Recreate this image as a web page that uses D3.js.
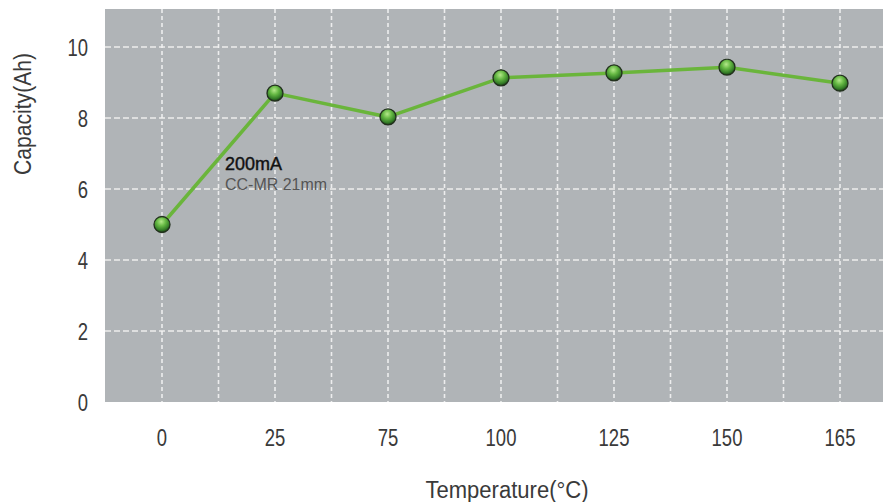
<!DOCTYPE html>
<html><head><meta charset="utf-8">
<script src="https://cdn.jsdelivr.net/npm/d3@7"></script>
<style>body{margin:0;background:#fff;}svg{display:block;}</style>
</head><body>
<svg id="c" width="883" height="502"></svg>
<script>
const categories = ["0","25","75","100","125","150","165"];
const capacity = [5.0, 8.70, 8.03, 9.13, 9.27, 9.43, 8.98];
const yTicks = [0,2,4,6,8,10];
const seriesLabel = "200mA";
const seriesSub = "CC-MR 21mm";
const xTitle = "Temperature(°C)";
const yTitle = "Capacity(Ah)";

const W = 883, H = 502;
const svg = d3.select("#c");
const font = "'Liberation Sans Narrow','Liberation Sans',Arial,sans-serif";

const x = d3.scaleBand().domain(categories).range([105.5, 896.5]).padding(0);
const y = d3.scaleLinear().domain([0, 11.07]).range([402, 9]);

const defs = svg.append("defs");
const clip = defs.append("clipPath").attr("id","pc");
clip.append("rect").attr("x",105).attr("y",9).attr("width",W-105).attr("height",393);
const g = defs.append("radialGradient").attr("id","ball").attr("cx","45%").attr("cy","32%").attr("r","68%");
g.append("stop").attr("offset","0%").attr("stop-color","#b4e88a");
g.append("stop").attr("offset","40%").attr("stop-color","#66b944");
g.append("stop").attr("offset","78%").attr("stop-color","#347d27");
g.append("stop").attr("offset","100%").attr("stop-color","#1a3915");

svg.append("rect").attr("x",105).attr("y",9).attr("width",W-105).attr("height",393).attr("fill","#b0b4b7");

const plot = svg.append("g").attr("clip-path","url(#pc)");
const vlines = [];
categories.forEach((c,i)=>{ vlines.push(x(c)+x.bandwidth()/2); vlines.push(x(c)+x.bandwidth()); });
plot.selectAll(".vg").data(vlines).enter().append("line")
  .attr("x1",d=>d).attr("x2",d=>d).attr("y1",y(11.07)).attr("y2",y(0))
  .attr("stroke","#f4f4f4").attr("stroke-width",1.6).attr("stroke-dasharray","4,3").attr("opacity",0.9);
plot.selectAll(".hg").data(yTicks.filter(t=>t>0)).enter().append("line")
  .attr("x1",105).attr("x2",W).attr("y1",d=>y(d)).attr("y2",d=>y(d))
  .attr("stroke","#f4f4f4").attr("stroke-width",1.6).attr("stroke-dasharray","6,3").attr("opacity",0.9);

const yAxis = d3.axisLeft(y).tickValues(yTicks).tickSize(0).tickPadding(0);
const ya = svg.append("g").attr("transform","translate(88,0)").call(yAxis);
ya.select(".domain").remove();
ya.selectAll("text").attr("font-family",font).attr("font-size",21).attr("fill","#3a3a3a")
  .attr("dy","0.36em").attr("transform","scale(0.88,1.12)").attr("y",0);

const xAxis = d3.axisBottom(x).tickSize(0).tickPadding(0);
const xa = svg.append("g").attr("transform","translate(0,438)").call(xAxis);
xa.select(".domain").remove();
xa.selectAll("text").attr("font-family",font).attr("font-size",21).attr("fill","#3a3a3a")
  .attr("dy","0.36em").attr("transform","scale(0.88,1.12)").attr("y",0);

svg.append("text").attr("transform","translate(507,498) scale(1,1.12)").attr("text-anchor","middle")
  .attr("font-family",font).attr("font-size",21).attr("fill","#3a3a3a")
  .attr("textLength",163).attr("lengthAdjust","spacingAndGlyphs").text(xTitle);
svg.append("text").attr("transform","translate(31,114) rotate(-90) scale(1,1.12)").attr("text-anchor","middle")
  .attr("font-family",font).attr("font-size",21).attr("fill","#3a3a3a")
  .attr("textLength",122).attr("lengthAdjust","spacingAndGlyphs").text(yTitle);

const cx = c => x(c)+x.bandwidth()/2;
const line = d3.line().x((d,i)=>cx(categories[i])).y(d=>y(d));
svg.append("path").datum(capacity).attr("d",line).attr("fill","none")
  .attr("stroke","#6ab53b").attr("stroke-width",3.5).attr("stroke-linejoin","round");

svg.selectAll(".m").data(capacity).enter().append("circle")
  .attr("cx",(d,i)=>cx(categories[i])).attr("cy",d=>y(d)).attr("r",8)
  .attr("fill","url(#ball)").attr("stroke","#22301d").attr("stroke-width",1.3);

svg.append("text").attr("transform","translate(225,170) scale(1,1.12)").attr("font-family",font).attr("font-size",17)
  .attr("fill","#111").attr("stroke","#111").attr("stroke-width",0.4)
  .attr("textLength",57).attr("lengthAdjust","spacingAndGlyphs").text(seriesLabel);
svg.append("text").attr("transform","translate(225,190) scale(1,1.12)").attr("font-family",font).attr("font-size",15)
  .attr("fill","#555").attr("textLength",102).attr("lengthAdjust","spacingAndGlyphs").text(seriesSub);
</script>
</body></html>
